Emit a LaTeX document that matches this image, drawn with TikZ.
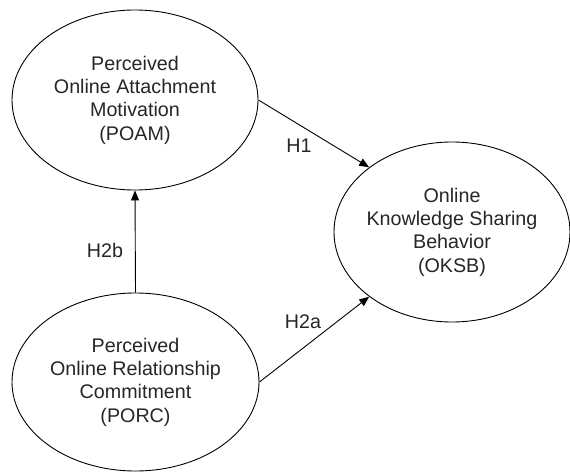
\documentclass[tikz,border=0pt]{standalone}
\usepackage{fontspec}
\setmainfont{Liberation Sans}
\usetikzlibrary{shapes.geometric,arrows.meta}
\begin{document}
\begin{tikzpicture}[x=1pt,y=-1pt,
  construct/.style={draw,line width=0.9pt,ellipse,inner xsep=-6pt,inner ysep=0pt,
    align=center,font=\fontsize{19.7}{23.3}\selectfont,text=black!85},
  link/.style={line width=0.9pt,-{Triangle[length=10pt,width=8pt]}},
  hyp/.style={font=\fontsize{19.7}{23.3}\selectfont,text=black!85,inner sep=0pt}]
\useasboundingbox (0,0) rectangle (570,471);
\node[construct,minimum width=246pt,minimum height=180pt] (poam) at (135,100)
  {Perceived\\Online Attachment\\Motivation\\(POAM)};
\node[construct,minimum width=247pt,minimum height=178pt] (porc) at (135.5,382)
  {Perceived\\Online Relationship\\Commitment\\(PORC)};
\node[construct,minimum width=236pt,minimum height=180pt] (oksb) at (452,232)
  {Online\\Knowledge Sharing\\Behavior\\(OKSB)};
\draw[link] (poam.east) -- (oksb.142);
\draw[link] (porc.east) -- (oksb.218);
\draw[link] (porc.north) -- (poam.south);
\node[hyp] (h1) at (299,146) {H1};
\node[hyp] (h2a) at (303,322) {H2a};
\node[hyp] (h2b) at (105,250) {H2b};
\end{tikzpicture}
\end{document}
